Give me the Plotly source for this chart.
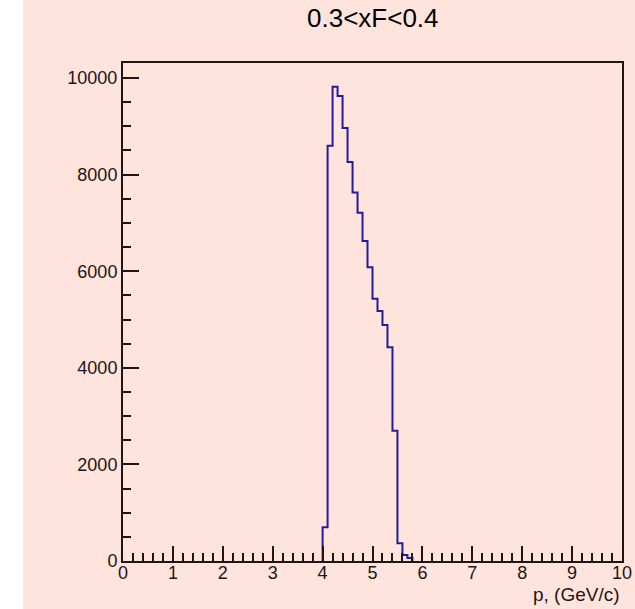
import plotly.graph_objects as go

# Histogram data (bin width 0.1 GeV/c)
bin_start = 4.0
bin_width = 0.1
counts = [700, 8600, 9820, 9630, 8965, 8260, 7630, 7210, 6625, 6081,
          5430, 5176, 4886, 4424, 2698, 366, 124, 60]
title_text = "0.3<xF<0.4"
x_title = "p, (GeV/c)"

# build step outline, including return to zero at both ends
edges = [round(bin_start + i * bin_width, 4) for i in range(len(counts) + 1)]
xs = [edges[0]] + edges
ys = [0] + counts + [0]

bg = "#ffe4de"
ink = "#231414"
W, H = 635, 609
L, R, T, B = 123, 13, 63, 48
pw, ph = W - L - R, H - T - B

fig = go.Figure()
fig.add_trace(go.Scatter(x=xs, y=ys, mode="lines", line=dict(shape="hv", color="#221c9a", width=2),
                         hoverinfo="skip", showlegend=False))

fig.update_layout(
    width=W, height=H,
    margin=dict(l=L, r=R, t=T, b=B, pad=0, autoexpand=False),
    paper_bgcolor="white",
    plot_bgcolor=bg,
    font=dict(family="Liberation Sans, Arial, sans-serif", color=ink),
    shapes=[dict(type="rect", xref="paper", yref="paper",
                 x0=(23 - L) / pw, x1=(W - L + 5) / pw,
                 y0=-(B + 5) / ph, y1=(ph + T + 5) / ph,
                 fillcolor=bg, line=dict(width=0), layer="below")],
    annotations=[
        dict(text=title_text, xref="paper", yref="paper", x=0.5, y=1 + (T - 18) / ph,
             xanchor="center", yanchor="middle", showarrow=False,
             font=dict(size=26, color="black")),
        dict(text=x_title, xref="paper", yref="paper", x=1.0, y=-(594 - (H - B)) / ph,
             xanchor="right", yanchor="middle", showarrow=False,
             font=dict(size=19, color=ink)),
    ],
)

fig.update_xaxes(range=[0, 10], dtick=1, tick0=0, showgrid=False, zeroline=False,
                 automargin=False,
                 showline=True, linecolor=ink, linewidth=2, mirror=True,
                 ticks="inside", ticklen=15, tickwidth=2, tickcolor=ink,
                 ticklabelstandoff=-6,
                 tickfont=dict(size=18, color=ink),
                 minor=dict(ticks="inside", ticklen=8, tickwidth=2, tickcolor=ink, dtick=0.2, showgrid=False))
fig.update_yaxes(range=[0, 10311], dtick=2000, tick0=0, showgrid=False, zeroline=False,
                 automargin=False, tickformat="d",
                 showline=True, linecolor=ink, linewidth=2, mirror=True,
                 ticks="inside", ticklen=16, tickwidth=2, tickcolor=ink,
                 tickfont=dict(size=18, color=ink),
                 minor=dict(ticks="inside", ticklen=8, tickwidth=2, tickcolor=ink, dtick=500, showgrid=False))

fig.write_html("out.html")
